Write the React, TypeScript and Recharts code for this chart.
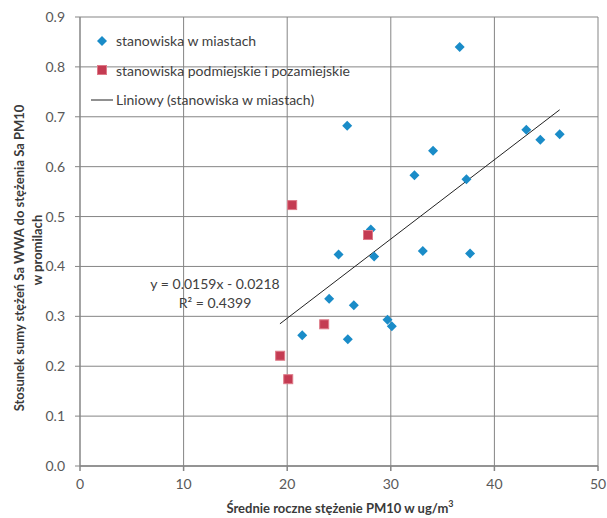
import React from "react";
import { ScatterChart, Scatter, XAxis, YAxis, CartesianGrid } from "recharts";

// PM10 (x) vs ratio Sa WWA / Sa PM10 (y)
const cityPoints = [
  { x: 36.65, y: 0.840 },
  { x: 25.79, y: 0.682 },
  { x: 34.08, y: 0.632 },
  { x: 32.28, y: 0.583 },
  { x: 37.3, y: 0.575 },
  { x: 43.08, y: 0.674 },
  { x: 44.43, y: 0.654 },
  { x: 46.3, y: 0.665 },
  { x: 28.07, y: 0.474 },
  { x: 24.96, y: 0.424 },
  { x: 28.39, y: 0.42 },
  { x: 33.09, y: 0.431 },
  { x: 37.65, y: 0.426 },
  { x: 24.05, y: 0.335 },
  { x: 26.43, y: 0.322 },
  { x: 29.68, y: 0.293 },
  { x: 30.1, y: 0.28 },
  { x: 21.45, y: 0.262 },
  { x: 25.85, y: 0.254 },
];

const suburbPoints = [
  { x: 20.48, y: 0.523 },
  { x: 27.8, y: 0.463 },
  { x: 23.57, y: 0.284 },
  { x: 19.32, y: 0.221 },
  { x: 20.1, y: 0.174 },
];

// ends of the linear trendline
const trendPoints = [
  { x: 19.3, y: 0.285 },
  { x: 46.3, y: 0.714 },
];

const xTicks = [0, 10, 20, 30, 40, 50];
const yTicks = [0, 0.1, 0.2, 0.3, 0.4, 0.5, 0.6, 0.7, 0.8, 0.9];

const seriesNames = [
  "stanowiska w miastach",
  "stanowiska podmiejskie i pozamiejskie",
  "Liniowy (stanowiska w miastach)",
];
const trendEquation = ["y = 0.0159x - 0.0218", "R² = 0.4399"];

const FONT = "Lato, 'Open Sans', sans-serif";
const BLUE = "#1A8CC8";
const RED = "#C43B52";
const GRID = "#858585";

const Diamond = (p: any) => (
  <polygon
    points={`${p.cx},${p.cy - 5} ${p.cx + 5},${p.cy} ${p.cx},${p.cy + 5} ${p.cx - 5},${p.cy}`}
    fill={BLUE}
  />
);

const Square = (p: any) => (
  <rect x={p.cx - 4.5} y={p.cy - 4.5} width={9} height={9} fill={RED} stroke="#DE7A88" strokeWidth={1} />
);

const NoDot = () => <g />;

const YTitle = () => (
  <g fontFamily={FONT} fontSize={13} fontWeight={700} fill="#3a3a3a">
    <text x={19} y={258} textAnchor="middle" dominantBaseline="central" transform="rotate(-90 19 258)">
      Stosunek sumy stężeń Sa WWA do stężenia Sa PM10
    </text>
    <text x={37} y={250} textAnchor="middle" dominantBaseline="central" transform="rotate(-90 37 250)">
      w promilach
    </text>
  </g>
);

const XTitle = () => (
  <text
    x={340}
    y={508}
    textAnchor="middle"
    dominantBaseline="central"
    fontFamily={FONT}
    fontSize={13}
    fontWeight={700}
    fill="#3a3a3a"
  >
    Średnie roczne stężenie PM10 w ug/m
    <tspan dy={-5} fontSize={9}>3</tspan>
  </text>
);

const LegendBox = () => (
  <div style={{ position: "absolute", left: 90, top: 26, fontFamily: FONT, fontSize: 14, color: "#404040" }}>
    {seriesNames.map((name, i) => (
      <div key={name} style={{ display: "flex", alignItems: "center", height: 29.6 }}>
        <svg width={24} height={14} style={{ marginRight: 2 }}>
          {i === 0 && <polygon points="12,2 17,7 12,12 7,7" fill={BLUE} />}
          {i === 1 && <rect x={7.5} y={2.5} width={9} height={9} fill={RED} stroke="#DE7A88" />}
          {i === 2 && <line x1={1} y1={7} x2={23} y2={7} stroke="#222" strokeWidth={1} />}
        </svg>
        <span style={{ whiteSpace: "nowrap" }}>{name}</span>
      </div>
    ))}
  </div>
);

export default function App() {
  return (
    <div style={{ position: "absolute", left: 0, top: 0, width: 607, height: 518, background: "#fff" }}>
      <ScatterChart width={607} height={518} margin={{ top: 17, right: 9, left: 0, bottom: 0 }}>
        <CartesianGrid stroke={GRID} strokeWidth={1} />
        <XAxis
          type="number"
          dataKey="x"
          domain={[0, 50]}
          ticks={xTicks}
          height={52}
          tickSize={5}
          tickMargin={8}
          stroke={GRID}
          strokeWidth={1.5}
          tick={{ fill: "#595959", fontSize: 14, fontFamily: FONT }}
          label={{ content: () => <XTitle /> }}
        />
        <YAxis
          type="number"
          dataKey="y"
          domain={[0, 0.9]}
          ticks={yTicks}
          width={80}
          tickSize={5}
          tickMargin={10}
          stroke={GRID}
          tickFormatter={(v: number) => v.toFixed(1)}
          tick={{ fill: "#595959", fontSize: 14, fontFamily: FONT }}
          label={{ content: () => <YTitle /> }}
        />
        <Scatter
          name={seriesNames[2]}
          data={trendPoints}
          line={{ stroke: "#222", strokeWidth: 1 }}
          shape={NoDot}
          isAnimationActive={false}
        />
        <Scatter name={seriesNames[0]} data={cityPoints} shape={Diamond} isAnimationActive={false} />
        <Scatter name={seriesNames[1]} data={suburbPoints} shape={Square} isAnimationActive={false} />
      </ScatterChart>
      <LegendBox />
      <div
        style={{
          position: "absolute",
          left: 115,
          top: 274,
          width: 200,
          textAlign: "center",
          fontFamily: FONT,
          fontSize: 14,
          lineHeight: "19px",
          color: "#404040",
        }}
      >
        {trendEquation.map((t) => (
          <div key={t}>{t}</div>
        ))}
      </div>
    </div>
  );
}
